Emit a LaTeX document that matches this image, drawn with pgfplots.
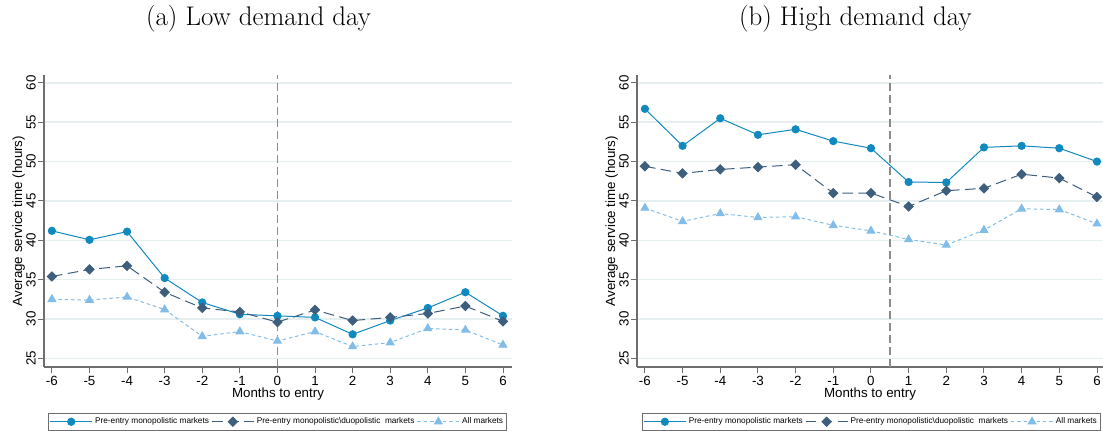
\documentclass[border=0pt]{standalone}
\usepackage{fontspec}
\setmainfont{Liberation Sans}
\newfontfamily\lmr{Latin Modern Roman}
\usepackage{pgfplots}
\pgfplotsset{compat=1.18}
\definecolor{cA}{HTML}{1089BF}
\definecolor{cB}{HTML}{3D5E7C}
\definecolor{cC}{HTML}{82BDE8}
\definecolor{gridc}{HTML}{E6EFEF}
\definecolor{axc}{HTML}{6E6E6E}
\pgfplotsset{
  panel/.style={
    scale only axis,
    height=219pt,
    ymin=23.9, ymax=61.0,
    axis x line*=bottom, axis y line*=left,
    axis line style={axc, line width=0.9pt},
    xtick={-6,...,6},
    xticklabels={-6,-5,-4,-3,-2,-1,0,1,2,3,4,5,6},
    ytick={25,30,...,60},
    yticklabels={25,30,35,40,45,50,55,60},
    tick style={axc, line width=0.7pt},
    tick align=outside,
    major tick length=4.5pt,
    ymajorgrids,
    grid style={gridc, line width=1.1pt},
    ticklabel style={font=\fontsize{10}{12}\selectfont, text=black},
    yticklabel style={rotate=90, anchor=south, inner sep=1.5pt},
    xticklabel style={inner sep=2pt},
    xlabel={Months to entry},
    ylabel={Average service time (hours)},
    label style={font=\fontsize{10}{12}\selectfont},
    xlabel style={yshift=4pt},
    ylabel style={yshift=-4pt},
    legend columns=3,
    legend style={font=\fontsize{6.2}{7.5}\selectfont, draw=axc, line width=0.6pt,
      anchor=north west, inner xsep=1pt, inner ysep=2.5pt,
      /tikz/every even column/.append style={column sep=0pt},
      nodes={inner xsep=1.8pt, inner ysep=1pt}},
    legend image code/.code={
      \draw[mark repeat=2,mark phase=2,#1] plot coordinates {(0pt,0pt) (15.75pt,0pt) (31.5pt,0pt)};
    },
  },
  sA/.style={cA, line width=0.75pt, solid, mark=*, mark size=2.7pt, mark options={solid, fill=cA}},
  sB/.style={cB, line width=0.75pt, dash pattern=on 8pt off 4pt, mark=square*, mark size=2.4pt, mark options={solid, fill=cB, rotate=45}},
  sC/.style={cC, line width=0.75pt, dash pattern=on 2.6pt off 2.2pt, mark=triangle*, mark size=3.3pt, mark options={solid, fill=cC}},
}
\begin{document}
\begin{tikzpicture}
\useasboundingbox (0,0) rectangle (827.25pt,322.5pt);
\node[anchor=base, font=\lmr\fontsize{20.2}{24}\selectfont] at (193.9pt,303.75pt) {(a) Low demand day};
\node[anchor=base, font=\lmr\fontsize{20.2}{24}\selectfont] at (641.5pt,303.75pt) {(b) High demand day};
\begin{axis}[panel, at={(33pt,47.25pt)}, anchor=south west, width=351pt,
  xmin=-6.21, xmax=6.24,
  legend style={at={(0.0085,-0.1565)}}]
\addplot[axc!80, line width=1.2pt, dash pattern=on 6pt off 3pt, forget plot] coordinates {(0,23.9) (0,61.0)};
\addplot[sA] coordinates {(-6,41.2) (-5,40.06) (-4,41.1) (-3,35.2) (-2,32.1) (-1,30.6) (0,30.4) (1,30.2) (2,28.05) (3,29.8) (4,31.4) (5,33.4) (6,30.4)};
\addplot[sB] coordinates {(-6,35.4) (-5,36.3) (-4,36.75) (-3,33.4) (-2,31.4) (-1,30.9) (0,29.6) (1,31.15) (2,29.8) (3,30.2) (4,30.7) (5,31.65) (6,29.7)};
\addplot[sC] coordinates {(-6,32.5) (-5,32.4) (-4,32.8) (-3,31.2) (-2,27.8) (-1,28.4) (0,27.2) (1,28.4) (2,26.5) (3,27.0) (4,28.8) (5,28.6) (6,26.7)};
\legend{Pre-entry monopolistic markets, Pre-entry monopolistic\textbackslash duopolistic\ \ markets, All markets}
\end{axis}
\begin{axis}[panel, at={(477.75pt,47.25pt)}, anchor=south west, width=349.5pt,
  xmin=-6.21, xmax=6.16,
  legend style={at={(0.010,-0.1565)}}]
\addplot[axc!80, line width=1.2pt, dash pattern=on 6pt off 3pt, forget plot] coordinates {(0.5,23.9) (0.5,61.0)};
\addplot[sA] coordinates {(-6,56.7) (-5,52.0) (-4,55.5) (-3,53.4) (-2,54.1) (-1,52.6) (0,51.7) (1,47.4) (2,47.35) (3,51.8) (4,52.0) (5,51.7) (6,50.0)};
\addplot[sB] coordinates {(-6,49.4) (-5,48.5) (-4,49.0) (-3,49.3) (-2,49.6) (-1,46.0) (0,46.0) (1,44.3) (2,46.3) (3,46.6) (4,48.4) (5,47.9) (6,45.5)};
\addplot[sC] coordinates {(-6,44.1) (-5,42.4) (-4,43.4) (-3,42.9) (-2,43.0) (-1,41.9) (0,41.2) (1,40.1) (2,39.4) (3,41.3) (4,44.0) (5,43.9) (6,42.1)};
\legend{Pre-entry monopolistic markets, Pre-entry monopolistic\textbackslash duopolistic\ \ markets, All markets}
\end{axis}
\end{tikzpicture}
\end{document}
